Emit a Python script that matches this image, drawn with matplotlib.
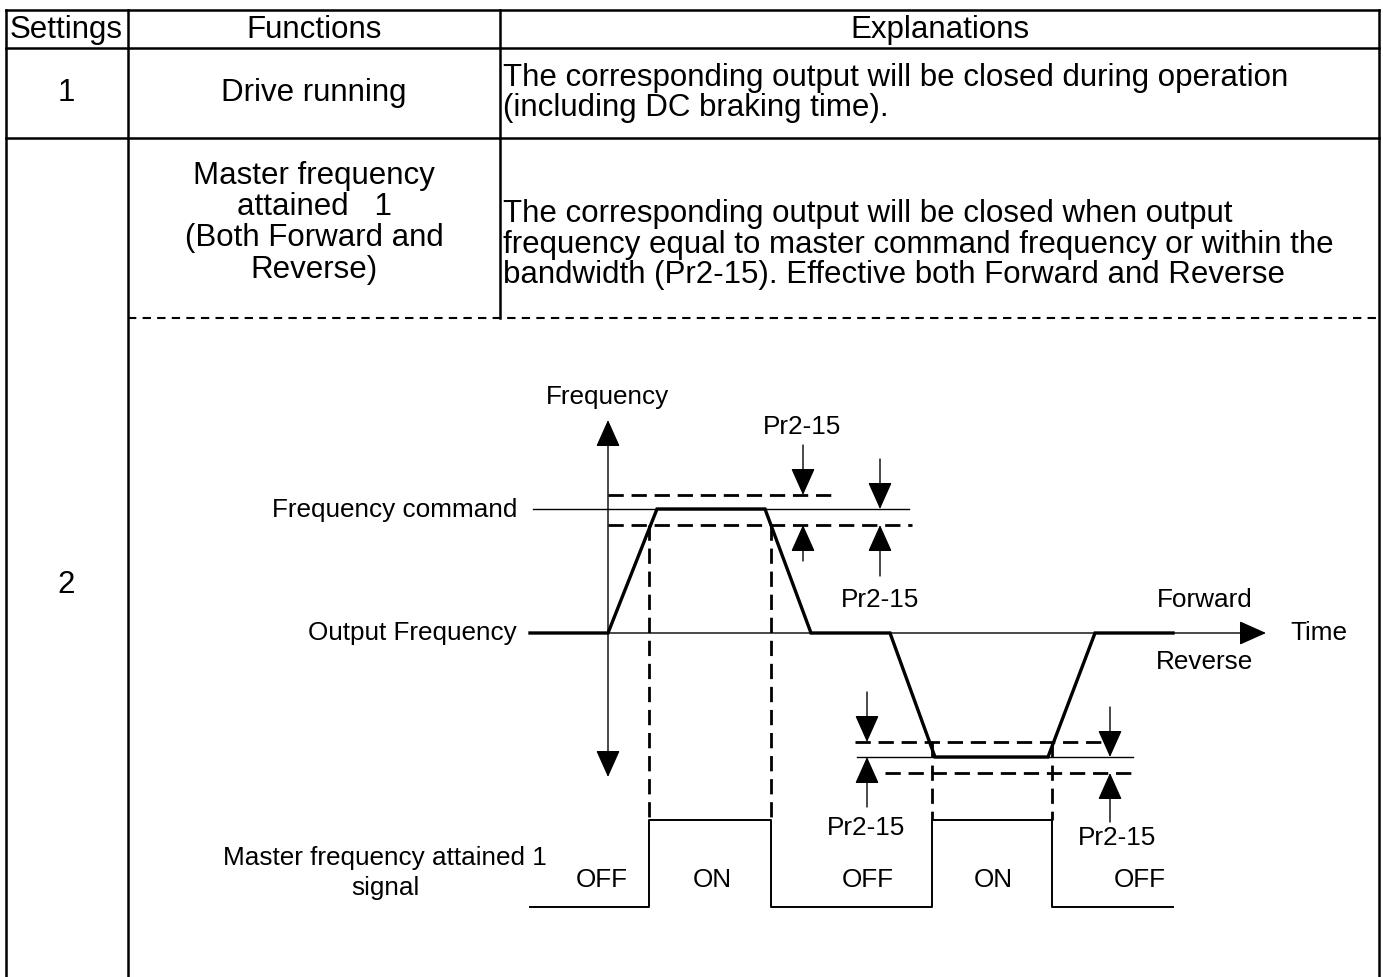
import matplotlib
matplotlib.use("Agg")
import matplotlib.pyplot as plt
from matplotlib.patches import FancyArrowPatch

plt.rcParams['font.family'] = ['Liberation Sans', 'DejaVu Sans']

# ---- table text ----
headers = ["Settings", "Functions", "Explanations"]
settings = ["1", "2"]
functions_1 = ["Drive running"]
functions_2 = ["Master frequency", "attained   1", "(Both Forward and", "Reverse)"]
explain_1 = ["The corresponding output will be closed during operation",
             "(including DC braking time)."]
explain_2 = ["The corresponding output will be closed when output",
             "frequency equal to master command frequency or within the",
             "bandwidth (Pr2-15). Effective both Forward and Reverse"]

# ---- timing diagram (pixel space) ----
out_t = [530, 608, 657, 765, 811, 890, 935, 1048, 1095, 1173]
out_f = [633, 633, 509, 509, 633, 633, 757, 757, 633, 633]
sig_t = [530, 649, 649, 771, 771, 932, 932, 1052, 1052, 1173]
sig_v = [907, 907, 820, 820, 907, 907, 820, 820, 907, 907]
fwd_cmd, fwd_hi, fwd_lo = 509, 495, 525
rev_cmd, rev_hi, rev_lo = 757, 742, 773
edges_fwd = [649, 771]
edges_rev = [932, 1052]
off_on_x = [602, 712, 868, 993, 1140]
off_on_lbl = ["OFF", "ON", "OFF", "ON", "OFF"]

fig = plt.figure(figsize=(13.83, 9.77), dpi=100)
ax = fig.add_axes([0, 0, 1, 1])
ax.set_xlim(0, 1383)
ax.set_ylim(977, 0)
ax.axis('off')

# table grid
tlw = 1.8
L, C1, C2, R = 6, 128, 500, 1379
ax.plot([L, R], [10, 10], 'k', lw=tlw)
ax.plot([L, R], [48, 48], 'k', lw=tlw)
ax.plot([L, R], [138, 138], 'k', lw=tlw)
ax.plot([L, L], [10, 977], 'k', lw=tlw)
ax.plot([C1, C1], [10, 977], 'k', lw=tlw)
ax.plot([R, R], [10, 977], 'k', lw=tlw)
ax.plot([C2, C2], [10, 318], 'k', lw=tlw)
ax.plot([C1, R], [318, 318], 'k', lw=1.5, ls=(0, (4, 3)))

fs = 22.5
for x, h in zip([66, 314, 940], headers):
    ax.text(x, 30, h, fontsize=fs, ha='center', va='center')
ax.text(66, 93, settings[0], fontsize=fs, ha='center', va='center')
ax.text(66, 585, settings[1], fontsize=fs, ha='center', va='center')
ax.text(314, 93, functions_1[0], fontsize=fs, ha='center', va='center')
for y, s in zip([176, 207, 238, 270], functions_2):
    ax.text(314, y, s, fontsize=fs, ha='center', va='center')
for y, s in zip([78, 108], explain_1):
    ax.text(503, y, s, fontsize=fs, ha='left', va='center')
for y, s in zip([214, 245, 275], explain_2):
    ax.text(503, y, s, fontsize=fs, ha='left', va='center')


def arrow(x0, y0, x1, y1, style='-|>'):
    a = FancyArrowPatch((x0, y0), (x1, y1),
                        arrowstyle=f'{style},head_length=0.85,head_width=0.38',
                        mutation_scale=20, lw=1.0, color='k',
                        shrinkA=0, shrinkB=0)
    ax.add_patch(a)


# axes of the diagram
arrow(608, 777, 608, 420, '<|-|>')
arrow(533, 633, 1266, 633)

dash = (0, (5.5, 2.8))
# forward band
ax.plot([533, 909], [fwd_cmd, fwd_cmd], 'k', lw=1.0)
ax.plot([608, 838], [fwd_hi, fwd_hi], 'k', lw=2.0, ls=dash)
ax.plot([608, 912], [fwd_lo, fwd_lo], 'k', lw=2.0, ls=dash)
# reverse band
ax.plot([857, 1133], [rev_cmd, rev_cmd], 'k', lw=1.0)
ax.plot([855, 1115], [rev_hi, rev_hi], 'k', lw=2.0, ls=dash)
ax.plot([885, 1133], [rev_lo, rev_lo], 'k', lw=2.0, ls=dash)

# edges
for x in edges_fwd:
    ax.plot([x, x], [fwd_lo, 820], 'k', lw=2.0, ls=dash)
for x in edges_rev:
    ax.plot([x, x], [rev_hi, 820], 'k', lw=2.0, ls=dash)

# traces
ax.plot(out_t, out_f, 'k', lw=2.4, solid_joinstyle='miter')
ax.plot(sig_t, sig_v, 'k', lw=1.4)

# bandwidth arrows
arrow(803, 445, 803, fwd_hi)
arrow(803, 561, 803, fwd_lo)
arrow(880, 459, 880, fwd_cmd)
arrow(880, 576, 880, fwd_lo)
arrow(867, 692, 867, rev_hi)
arrow(867, 807, 867, rev_cmd)
arrow(1110, 707, 1110, rev_cmd)
arrow(1110, 822, 1110, rev_lo)

dfs = 18.8
ax.text(608, 397, "Frequency", fontsize=dfs, ha='center', va='center')
ax.text(802, 427, "Pr2-15", fontsize=dfs, ha='center', va='center')
ax.text(880, 600, "Pr2-15", fontsize=dfs, ha='center', va='center')
ax.text(866, 828, "Pr2-15", fontsize=dfs, ha='center', va='center')
ax.text(1117, 838, "Pr2-15", fontsize=dfs, ha='center', va='center')
ax.text(517, 510, "Frequency command", fontsize=dfs, ha='right', va='center')
ax.text(517, 633, "Output Frequency", fontsize=dfs, ha='right', va='center')
ax.text(1205, 600, "Forward", fontsize=dfs, ha='center', va='center')
ax.text(1205, 662, "Reverse", fontsize=dfs, ha='center', va='center')
ax.text(1290, 633, "Time", fontsize=dfs, ha='left', va='center')
ax.text(385, 858, "Master frequency attained 1", fontsize=dfs, ha='center', va='center')
ax.text(385, 888, "signal", fontsize=dfs, ha='center', va='center')
for x, s in zip(off_on_x, off_on_lbl):
    ax.text(x, 880, s, fontsize=dfs, ha='center', va='center')

fig.savefig("out.png", dpi=100)
